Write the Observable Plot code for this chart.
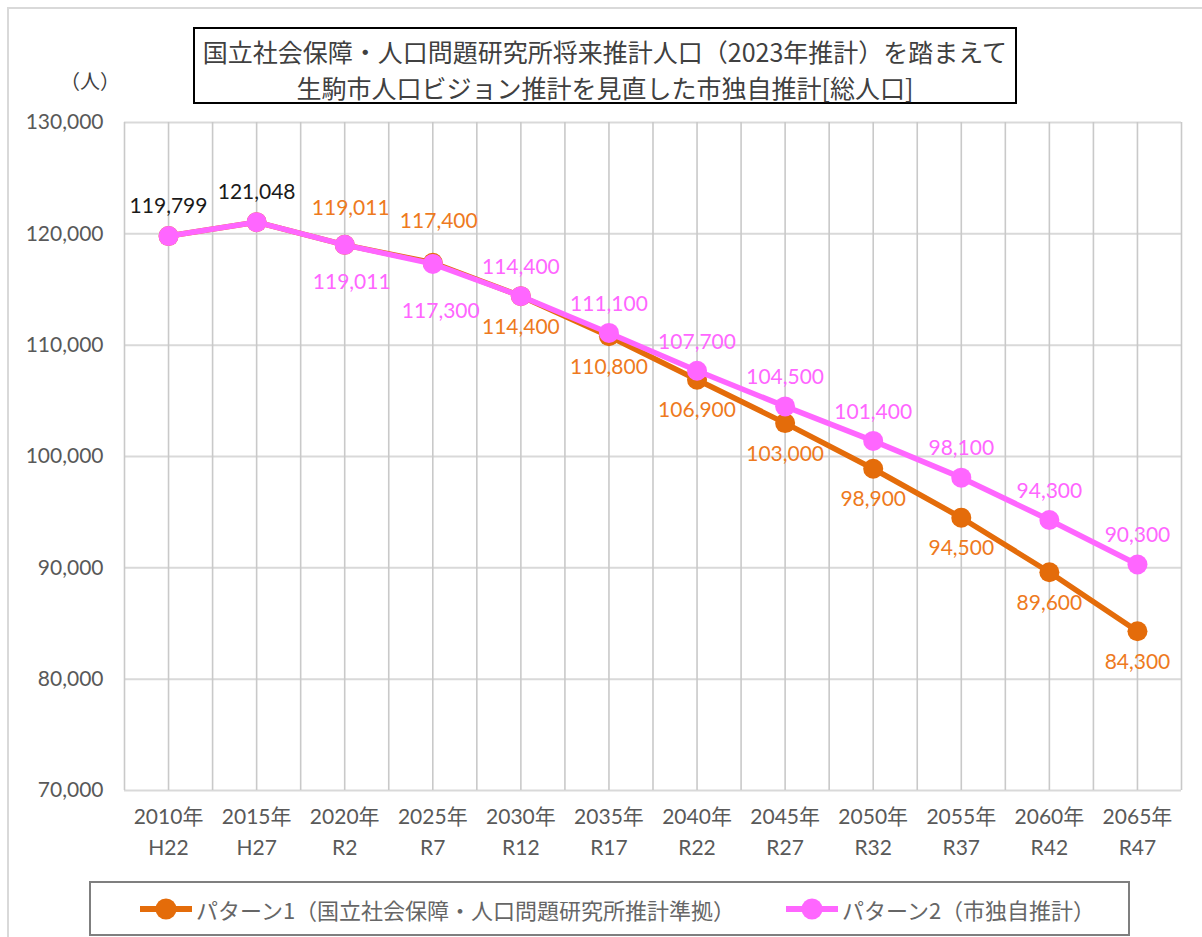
<!DOCTYPE html>
<html>
<head>
<meta charset="utf-8">
<script src="https://cdn.jsdelivr.net/npm/d3@7"></script>
<script src="https://cdn.jsdelivr.net/npm/@observablehq/plot@0.6"></script>
<style>
  html, body { margin: 0; padding: 0; background: #fff; }
  #wrap { position: relative; width: 1202px; height: 937px; overflow: hidden; background: #fff; }
  #frame { position: absolute; left: 7px; top: 7px; width: 1210px; height: 950px; border: 2px solid #d9d9d9; box-sizing: border-box; }
  #chart { position: absolute; left: 0; top: 0; }
  #title { position: absolute; left: 193px; top: 27px; width: 824px; height: 77px; box-sizing: border-box;
    border: 2px solid #000; font-family: "Noto Sans CJK JP", sans-serif; font-size: 25px; line-height: 36px;
    color: #404040; text-align: center; padding-top: 4px; background: #fff; }
  #unit { position: absolute; left: 60px; top: 66px; font-family: "Noto Sans CJK JP", sans-serif; font-size: 20px; color: #404040; }
  #legend { position: absolute; left: 89px; top: 881px; width: 1041px; height: 55px; box-sizing: border-box;
    border: 2px solid #7f7f7f; background: #fff; font-family: "Noto Sans CJK JP", sans-serif; font-size: 22px; color: #666; }
  .item { position: absolute; top: 0; height: 51px; display: flex; align-items: center; }
  .item svg { margin-right: 4px; }
</style>
</head>
<body>
<div id="wrap">
  <div id="frame"></div>
  <div id="chart"></div>
  <div id="title">国立社会保障・人口問題研究所将来推計人口（2023年推計）を踏まえて<br>生駒市人口ビジョン推計を見直した市独自推計[総人口]</div>
  <div id="unit">（人）</div>
  <div id="legend"></div>
</div>
<script>
// ---- data ----
const years = ["2010年","2015年","2020年","2025年","2030年","2035年","2040年","2045年","2050年","2055年","2060年","2065年"];
const eras = ["H22","H27","R2","R7","R12","R17","R22","R27","R32","R37","R42","R47"];
const pattern1 = [119799,121048,119011,117400,114400,110800,106900,103000,98900,94500,89600,84300];
const pattern2 = [119799,121048,119011,117300,114400,111100,107700,104500,101400,98100,94300,90300];
const seriesNames = ["パターン1（国立社会保障・人口問題研究所推計準拠）","パターン2（市独自推計）"];
const seriesColors = ["#E46C0A","#FF66FF"];
const labelColors = ["#EE7A1E","#FF66FF"];
const yTicks = [70000,80000,90000,100000,110000,120000,130000];

// ---- build tables ----
const idx = years.map((_, i) => i);
const rows1 = pattern1.map((v, i) => ({i, v}));
const rows2 = pattern2.map((v, i) => ({i, v}));
const fmt = d3.format(",");

// labels: shared (black) for first two, then per-series above/below
const labels = [];
idx.forEach(i => {
  if (i < 2) {
    labels.push({i, v: pattern1[i], c: "#1a1a1a", dy: -30, dx: 0});
  } else if (i === 2) {
    labels.push({i, v: pattern1[i], c: labelColors[0], dy: -37, dx: 6});
    labels.push({i, v: pattern2[i], c: labelColors[1], dy: 37, dx: 7});
  } else if (i === 3) {
    labels.push({i, v: pattern1[i], c: labelColors[0], dy: -42, dx: 6});
    labels.push({i, v: pattern2[i], c: labelColors[1], dy: 47, dx: 8});
  } else {
    labels.push({i, v: pattern2[i], c: labelColors[1], dy: -29, dx: 0});
    labels.push({i, v: pattern1[i], c: labelColors[0], dy: 31, dx: 0});
  }
});
const groups = d3.groups(labels, d => d.dy + "|" + d.dx);
const labelMarks = groups.map(([, g]) =>
  Plot.text(g, {x: "i", y: "v", text: d => fmt(d.v), fill: "c", dy: g[0].dy, dx: g[0].dx, fontSize: 21})
);

const gridX = d3.range(-0.5, years.length - 0.49, 0.5);
const numFont = "Lato, 'Noto Sans CJK JP', sans-serif";

const chart = Plot.plot({
  width: 1202,
  height: 937,
  marginLeft: 124,
  marginRight: 21,
  marginTop: 122,
  marginBottom: 147,
  style: {fontFamily: numFont, fontSize: "21px", background: "transparent", overflow: "visible"},
  x: {type: "linear", domain: [-0.5, years.length - 0.5], axis: null},
  y: {domain: [70000, 130000], label: null, axis: null},
  marks: [
    Plot.ruleY(yTicks, {stroke: "#d9d9d9", strokeWidth: 2}),
    Plot.ruleX(gridX, {stroke: "#c9c9c9", strokeWidth: 1.6}),
    Plot.axisY({ticks: yTicks, tickSize: 0, tickPadding: 21, tickFormat: fmt, fill: "#595959", label: null, fontSize: 21}),
    Plot.text(idx, {x: d => d, frameAnchor: "bottom", text: d => years[d], dy: 33, fill: "#595959", fontSize: 21}),
    Plot.text(idx, {x: d => d, frameAnchor: "bottom", text: d => eras[d], dy: 64, fill: "#595959", fontSize: 21}),
    Plot.line(rows1, {x: "i", y: "v", stroke: seriesColors[0], strokeWidth: 5.5}),
    Plot.dot(rows1, {x: "i", y: "v", r: 10, fill: seriesColors[0]}),
    Plot.line(rows2, {x: "i", y: "v", stroke: seriesColors[1], strokeWidth: 5.5}),
    Plot.dot(rows2, {x: "i", y: "v", r: 10, fill: seriesColors[1]}),
    ...labelMarks
  ]
});
document.getElementById("chart").appendChild(chart);

// legend
(function(){
  const lg = document.getElementById("legend");
  const pos = [49, 695];
  seriesNames.forEach((name, k) => {
    const it = document.createElement("div");
    it.className = "item";
    it.style.left = pos[k] + "px";
    it.innerHTML = `<svg width="52" height="24"><line x1="1" y1="12" x2="51" y2="12" stroke="${seriesColors[k]}" stroke-width="6" stroke-linecap="round"/><circle cx="26" cy="12" r="10.5" fill="${seriesColors[k]}"/></svg><span>${name}</span>`;
    lg.appendChild(it);
  });
})();
</script>
</body>
</html>
